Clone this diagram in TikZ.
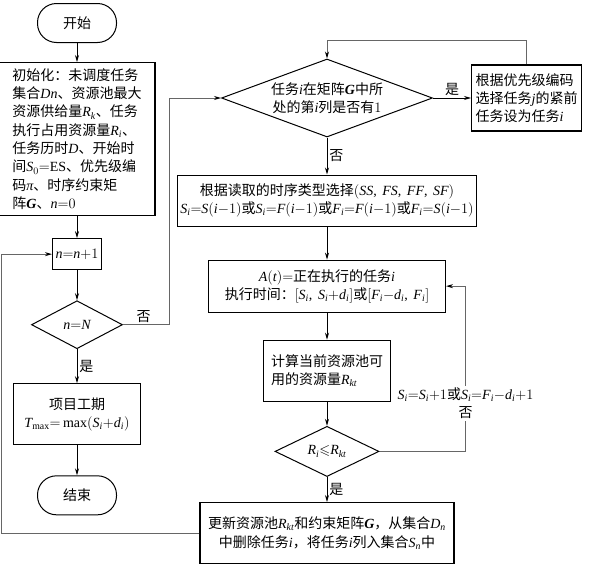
\documentclass[tikz,border=0pt]{standalone}
\usepackage{amsmath}
\usepackage{amssymb}
\usepackage{fontspec}
\setmainfont{Noto Sans CJK SC}
\newfontfamily\tms[NFSSFamily=tmsf]{Liberation Serif}
\setmathrm{Liberation Serif}
\DeclareSymbolFont{letters}{TU}{tmsf}{m}{it}
\SetSymbolFont{letters}{bold}{TU}{tmsf}{b}{it}
\mathcode`\,="602C
\usetikzlibrary{shapes.geometric,arrows.meta,positioning}
\tikzstyle{term}=[draw, line width=1pt, rounded corners=19pt, minimum width=79pt, minimum height=39pt, inner sep=0pt]
\tikzstyle{proc}=[draw, line width=1.1pt, inner sep=3pt]
\tikzstyle{dec}=[draw, diamond, line width=1pt, inner sep=0pt]
\tikzstyle{fb}=[draw=black!60]
\tikzstyle{lbl}=[inner sep=2pt]

\begin{document}
\begin{tikzpicture}
[-{Stealth[length=7pt,width=4pt,color=black]}, line width=0.8pt, x=1pt, y=-1pt, font=\fontsize{14}{18.3}\selectfont]
 \useasboundingbox (0,0) rectangle (593,565);
 % left column
 \node[term] (start) at (77,23) {开始};
 \node[proc, minimum width=156pt, minimum height=153pt, align=left] (init) [below=19pt of start]
  {初始化：未调度任务\\集合$Dn$、资源池最大\\资源供给量$R_k$、任务\\执行占用资源量$R_i$、\\任务历时$D$、开始时\\间$S_0{=}\mathrm{ES}$、优先级编\\码{\tms\itshape π}、时序约束矩\\阵$\boldsymbol{G}$、$n{=}0$};
 \node[proc, minimum width=46pt, minimum height=31pt] (inc) [below=22pt of init] {$n{=}n{+}1$};
 \node[dec, minimum width=91pt, minimum height=48pt] (decN) [below=30pt of inc] {$n{=}N$};
 \node[proc, minimum width=127pt, minimum height=61pt, align=center] (proj) [below=34pt of decN]
  {项目工期\\$T_{\max}{=}\max(S_i{+}d_i)$};
 \node[term] (end) [below=30pt of proj] {结束};
 % right column
 \node[dec, aspect=2.7, minimum width=211pt, minimum height=78pt, align=center] (d1) at (327,98)
  {任务$i$在矩阵$\boldsymbol{G}$中所\\处的第$i$列是否有$1$};
 \node[proc, minimum width=110pt, minimum height=66pt, align=left] (pick) [right=38pt of d1]
  {根据优先级编码\\选择任务$j$的紧前\\任务设为任务$i$};
 \node[proc, minimum width=288pt, minimum height=51pt, align=center] (rule) [below=37pt of d1]
  {根据读取的时序类型选择$(SS,\ FS,\ FF,\ SF)$\\$S_i{=}S(i{-}1)$或$S_i{=}F(i{-}1)$或$F_i{=}F(i{-}1)$或$F_i{=}S(i{-}1)$};
 \node[proc, minimum width=237pt, minimum height=52pt, align=center] (exec) [below=33pt of rule]
  {$A(t){=}$正在执行的任务$i$\\执行时间：$[S_i,\ S_i{+}d_i]$或$[F_i{-}d_i,\ F_i]$};
 \node[proc, minimum width=127pt, minimum height=61pt, align=left] (calc) [below=27pt of exec]
  {计算当前资源池可\\用的资源量$R_{kt}$};
 \node[dec, minimum width=104pt, minimum height=50pt] (d2) [below=24pt of calc] {$R_i{\leqslant}R_{kt}$};
 \node[proc, minimum width=254pt, minimum height=61pt, align=center] (upd) [below=25pt of d2]
  {更新资源池$R_{kt}$和约束矩阵$\boldsymbol{G}$，从集合$D_n$\\中删除任务$i$，将任务$i$列入集合$S_n$中};
 \path[]
   (start) edge node {} (init)
   (init) edge node {} (inc)
   (inc) edge node {} (decN)
   (decN) edge node[right, lbl] {是} (proj)
   (proj) edge node {} (end)
   (d1) edge node[above, lbl] {是} (pick)
   (d1) edge node[right, lbl] {否} (rule)
   (rule) edge node {} (exec)
   (exec) edge node {} (calc)
   (calc) edge node {} (d2)
   (d2) edge node[right, lbl] {是} (upd);
 % loops
 \draw[fb] (decN.east) -- ++(46,0) node[above, pos=0.45, lbl] {否} |- (d1.west);
 \draw[fb] (pick.north) -- ++(0,-24) -| (d1.north);
 \draw[fb] (d2.east) -- ++(86,0) |- node[pos=0.145, fill=white, align=center, lbl]
  {$S_i{=}S_i{+}1$或$S_i{=}F_i{-}d_i{+}1$\\否} (exec.east);
 \draw[fb] (upd.west) -- ++(-198,0) |- (inc.west);
\end{tikzpicture}
\end{document}
